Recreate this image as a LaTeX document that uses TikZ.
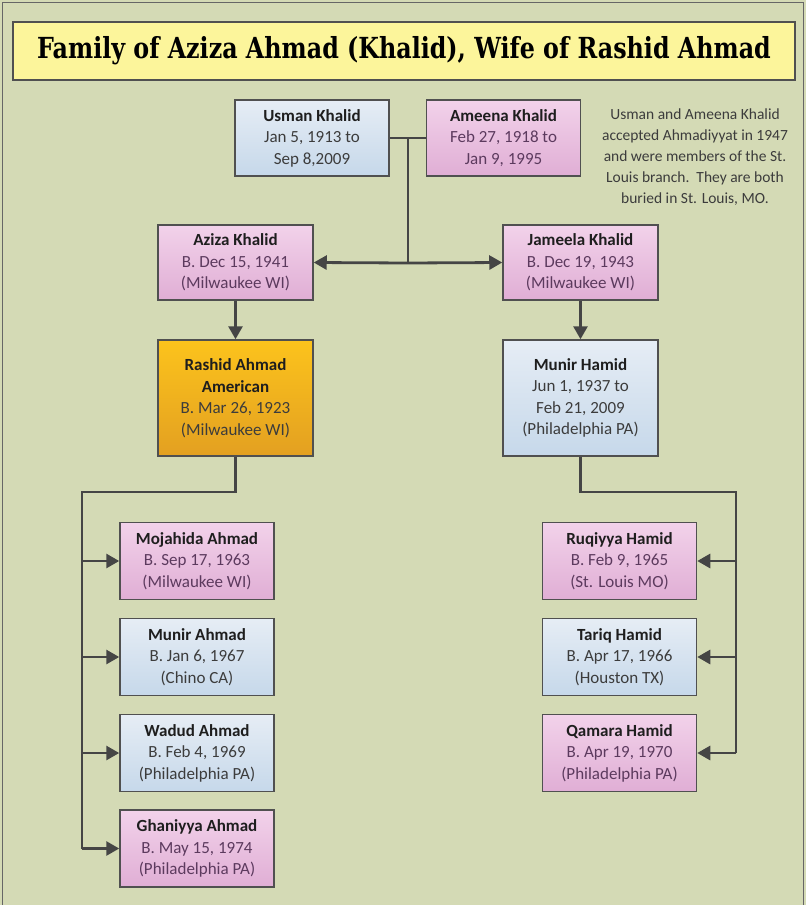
\documentclass[tikz,border=0pt]{standalone}
\usepackage{fontspec}
\setmainfont{Carlito}
\newfontfamily\titlefont[FakeStretch=0.82]{DejaVu Serif}
\usetikzlibrary{arrows.meta,shadings}
\definecolor{bg}{HTML}{D4DAB5}
\definecolor{pinkT}{HTML}{F2D2EA}
\definecolor{pinkB}{HTML}{E0AED5}
\definecolor{blueT}{HTML}{E6EDF5}
\definecolor{blueB}{HTML}{C6D8EA}
\definecolor{orT}{HTML}{FCC31C}
\definecolor{orB}{HTML}{E3A021}
\definecolor{edgec}{HTML}{505050}
\definecolor{conn}{HTML}{454545}
\definecolor{pinktext}{HTML}{5C3A5E}
\definecolor{bluetext}{HTML}{3C3C3C}
\definecolor{namec}{HTML}{1E1E1E}
\definecolor{titlefill}{HTML}{FCF59B}
\newcommand{\nm}[1]{{\bfseries\color{namec}#1}}
\tikzset{
  box/.style={draw=edgec, line width=1.5pt, minimum width=154pt, minimum height=76pt,
    align=center, inner sep=0pt, font=\fontsize{17}{21.5}\selectfont},
  pinkbox/.style={box, top color=pinkT, bottom color=pinkB, text=pinktext},
  bluebox/.style={box, top color=blueT, bottom color=blueB, text=bluetext},
  orbox/.style={box, top color=orT, bottom color=orB, text=bluetext, minimum height=116pt},
  conline/.style={draw=conn, line width=2.8pt},
  conarrow/.style={conline, -{Triangle[length=13pt,width=14pt]}},
}
\begin{document}
\begin{tikzpicture}[x=1pt,y=-1pt]
\useasboundingbox (0,0) rectangle (806,905);
\fill[bg] (0,0) rectangle (806,905);
\draw[draw=gray!80!black, line width=1pt] (2.5,2.5) rectangle (803.5,915);
% title
\node[draw=edgec, line width=1.3pt, fill=titlefill, minimum width=782pt, minimum height=58pt, inner sep=0pt,
  font=\titlefont\bfseries\fontsize{29}{32}\selectfont, text=black] (title) at (404,51)
  {Family of Aziza Ahmad (Khalid), Wife of Rashid Ahmad};
% generation 1
\node[bluebox] (usman) at (312,138) {\nm{Usman Khalid}\\Jan 5, 1913 to\\Sep 8,2009};
\node[pinkbox] (ameena) at (503.5,138) {\nm{Ameena Khalid}\\Feb 27, 1918 to\\Jan 9, 1995};
\node[align=center, text=bluetext, font=\fontsize{15.5}{21}\selectfont] (note) at (695,157)
  {Usman and Ameena Khalid\\accepted Ahmadiyyat in 1947\\and were members of the St.\\Louis branch.\ \ They are both\\buried in St. Louis, MO.};
% generation 2
\node[pinkbox, minimum width=155pt, minimum height=75pt] (aziza) at (235.5,262.5) {\nm{Aziza Khalid}\\B. Dec 15, 1941\\(Milwaukee WI)};
\node[pinkbox, minimum width=155pt, minimum height=75pt] (jameela) at (580.5,262.5) {\nm{Jameela Khalid}\\B. Dec 19, 1943\\(Milwaukee WI)};
% spouses
\node[orbox, minimum width=155pt] (rashid) at (235.5,398) {\nm{Rashid Ahmad}\\\nm{American}\\B. Mar 26, 1923\\(Milwaukee WI)};
\node[bluebox, minimum width=155pt, minimum height=116pt] (munirh) at (580.5,398) {\nm{Munir Hamid}\\Jun 1, 1937 to\\Feb 21, 2009\\(Philadelphia PA)};
% children left
\node[pinkbox, minimum height=77pt] (moj) at (197,561) {\nm{Mojahida Ahmad}\\B. Sep 17, 1963\\(Milwaukee WI)};
\node[bluebox, minimum height=77pt] (munira) at (197,657) {\nm{Munir Ahmad}\\B. Jan 6, 1967\\(Chino CA)};
\node[bluebox, minimum height=77pt] (wadud) at (197,753) {\nm{Wadud Ahmad}\\B. Feb 4, 1969\\(Philadelphia PA)};
\node[pinkbox, minimum height=77pt] (gha) at (197,848.5) {\nm{Ghaniyya Ahmad}\\B. May 15, 1974\\(Philadelphia PA)};
% children right
\node[pinkbox, minimum height=77pt] (ruq) at (619.5,561) {\nm{Ruqiyya Hamid}\\B. Feb 9, 1965\\(St. Louis MO)};
\node[bluebox, minimum height=77pt] (tariq) at (619.5,657) {\nm{Tariq Hamid}\\B. Apr 17, 1966\\(Houston TX)};
\node[pinkbox, minimum height=77pt] (qamara) at (619.5,753) {\nm{Qamara Hamid}\\B. Apr 19, 1970\\(Philadelphia PA)};
% connectors
\coordinate (j1) at (408,138);
\coordinate (j2) at (408,263);
\draw[conline] (usman.east) -- (ameena.west);
\draw[conline] (j1) -- (j2);
\draw[conarrow] (j2) -- (aziza.east);
\draw[conarrow] (j2) -- (jameela.west);
\draw[conarrow] (aziza.south) -- (rashid.north);
\draw[conarrow] (jameela.south) -- (munirh.north);
\coordinate (lb) at (235.5,492);
\coordinate (lv) at (82,492);
\draw[conline] (rashid.south) -- (lb) -- (lv) -- (lv |- gha.west);
\foreach \c in {moj,munira,wadud,gha} \draw[conarrow] (lv |- \c.west) -- (\c.west);
\coordinate (rb) at (580.5,492);
\coordinate (rv) at (736,492);
\draw[conline] (munirh.south) -- (rb) -- (rv) -- (rv |- qamara.east);
\foreach \c in {ruq,tariq,qamara} \draw[conarrow] (rv |- \c.east) -- (\c.east);
\end{tikzpicture}
\end{document}
